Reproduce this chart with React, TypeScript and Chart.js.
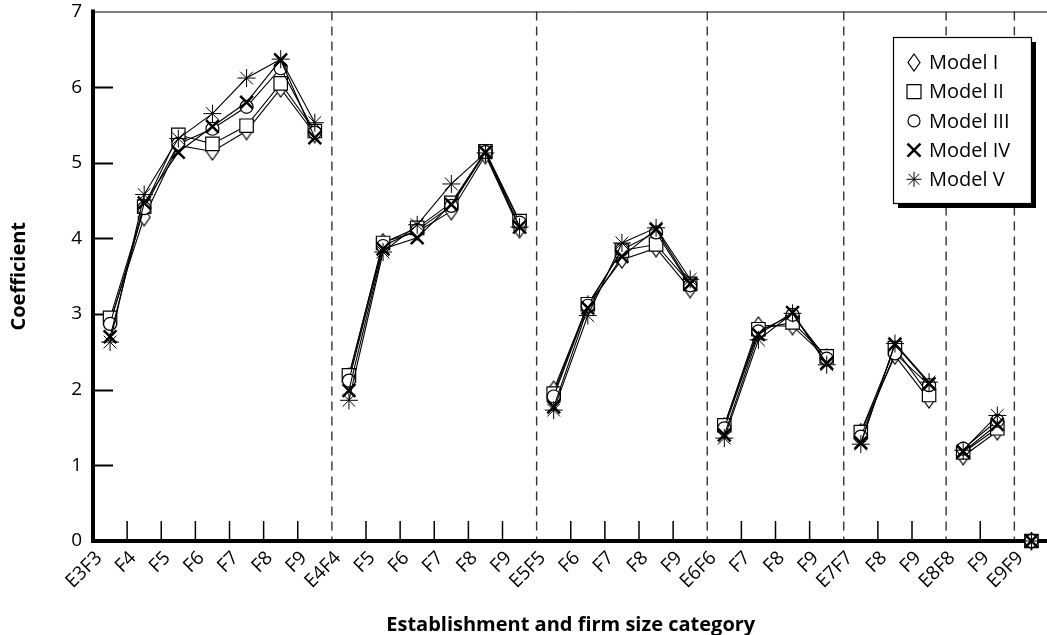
import React, { useEffect, useRef } from 'react';
import { Chart, registerables } from 'chart.js';

Chart.register(...registerables);

const categories = [
  'E3F3', 'F4', 'F5', 'F6', 'F7', 'F8', 'F9',
  'E4F4', 'F5', 'F6', 'F7', 'F8', 'F9',
  'E5F5', 'F6', 'F7', 'F8', 'F9',
  'E6F6', 'F7', 'F8', 'F9',
  'E7F7', 'F8', 'F9',
  'E8F8', 'F9',
  'E9F9',
];
// index of the first category of each establishment group (after the first)
const groupStarts = [7, 13, 18, 22, 25, 27];

const modelNames = ['Model I', 'Model II', 'Model III', 'Model IV', 'Model V'];

const modelI = [2.90, 4.28, 5.23, 5.15, 5.42, 5.98, 5.38, 2.17, 3.95, 4.09, 4.36, 5.10, 4.12, 2.00, 3.12, 3.72, 3.87, 3.33, 1.52, 2.85, 2.84, 2.42, 1.44, 2.45, 1.87, 1.12, 1.45, 0];
const modelII = [2.95, 4.42, 5.37, 5.25, 5.49, 6.05, 5.42, 2.19, 3.94, 4.14, 4.47, 5.15, 4.23, 1.95, 3.13, 3.84, 3.92, 3.40, 1.53, 2.80, 2.89, 2.44, 1.44, 2.55, 1.93, 1.17, 1.49, 0];
const modelIII = [2.87, 4.40, 5.25, 5.45, 5.74, 6.25, 5.40, 2.12, 3.90, 4.11, 4.43, 5.14, 4.21, 1.91, 3.11, 3.85, 4.08, 3.38, 1.49, 2.77, 2.99, 2.41, 1.38, 2.48, 2.06, 1.22, 1.59, 0];
const modelIV = [2.70, 4.47, 5.14, 5.48, 5.80, 6.36, 5.33, 1.99, 3.86, 4.01, 4.45, 5.14, 4.15, 1.77, 3.08, 3.76, 4.12, 3.40, 1.40, 2.73, 3.02, 2.35, 1.30, 2.60, 2.08, 1.18, 1.54, 0];
const modelV = [2.63, 4.58, 5.32, 5.65, 6.12, 6.37, 5.53, 1.86, 3.82, 4.18, 4.72, 5.13, 4.15, 1.73, 2.98, 3.94, 4.14, 3.46, 1.36, 2.66, 3.01, 2.33, 1.28, 2.61, 2.10, 1.20, 1.66, 0];

const yMin = 0;
const yMax = 7;
const yStep = 1;

const xTitle = 'Establishment and firm size category';
const yTitle = 'Coefficient';

const FONT = "'Open Sans', 'Noto Sans', sans-serif";

function makeDiamond(): HTMLCanvasElement {
  const c = document.createElement('canvas');
  c.width = 14;
  c.height = 19;
  const g = c.getContext('2d')!;
  g.beginPath();
  g.moveTo(7, 1);
  g.lineTo(13, 9.5);
  g.lineTo(7, 18);
  g.lineTo(1, 9.5);
  g.closePath();
  g.fillStyle = '#fff';
  g.fill();
  g.lineWidth = 1.2;
  g.strokeStyle = '#000';
  g.stroke();
  return c;
}

function drawMarker(ctx: CanvasRenderingContext2D, kind: string, x: number, y: number, diamond: HTMLCanvasElement) {
  ctx.save();
  ctx.strokeStyle = '#000';
  ctx.fillStyle = '#fff';
  if (kind === 'diamond') {
    ctx.drawImage(diamond, x - diamond.width / 2, y - diamond.height / 2);
  } else if (kind === 'rect') {
    ctx.lineWidth = 1.2;
    ctx.beginPath();
    ctx.rect(x - 7, y - 7, 14, 14);
    ctx.fill();
    ctx.stroke();
  } else if (kind === 'circle') {
    ctx.lineWidth = 1.2;
    ctx.beginPath();
    ctx.arc(x, y, 6, 0, Math.PI * 2);
    ctx.fill();
    ctx.stroke();
  } else if (kind === 'crossRot') {
    ctx.lineWidth = 2.5;
    const d = 6.5;
    ctx.beginPath();
    ctx.moveTo(x - d, y - d);
    ctx.lineTo(x + d, y + d);
    ctx.moveTo(x + d, y - d);
    ctx.lineTo(x - d, y + d);
    ctx.stroke();
  } else if (kind === 'star') {
    ctx.lineWidth = 1;
    const r = 7.5;
    const d = r * Math.SQRT1_2;
    ctx.beginPath();
    ctx.moveTo(x, y - r);
    ctx.lineTo(x, y + r);
    ctx.moveTo(x - r, y);
    ctx.lineTo(x + r, y);
    ctx.moveTo(x - d, y - d);
    ctx.lineTo(x + d, y + d);
    ctx.moveTo(x + d, y - d);
    ctx.lineTo(x - d, y + d);
    ctx.stroke();
  }
  ctx.restore();
}

export default function App() {
  const ref = useRef<HTMLCanvasElement | null>(null);

  useEffect(() => {
    if (!ref.current) return;
    const diamond = makeDiamond();
    const markerKinds = ['diamond', 'rect', 'circle', 'crossRot', 'star'];

    const segment = {
      borderColor: (ctx: any) => (groupStarts.includes(ctx.p1DataIndex) ? 'rgba(0,0,0,0)' : undefined),
    };

    const base = {
      borderColor: '#000',
      borderWidth: 1.1,
      pointBackgroundColor: '#fff',
      pointBorderColor: '#000',
      clip: false as const,
      segment,
      tension: 0,
    };

    const axesPlugin = {
      id: 'axesPlugin',
      beforeDatasetsDraw(chart: any) {
        const { ctx, chartArea: ca } = chart;
        const xs = chart.scales.x;
        const ys = chart.scales.y;
        ctx.save();
        // top frame line
        ctx.strokeStyle = '#000';
        ctx.lineWidth = 1;
        ctx.beginPath();
        ctx.moveTo(ca.left, ca.top + 0.5);
        ctx.lineTo(ca.right, ca.top + 0.5);
        ctx.stroke();
        // x ticks and group separators
        for (let k = 1; k < categories.length; k++) {
          const px = xs.getPixelForValue(k - 0.5);
          if (groupStarts.includes(k)) {
            ctx.save();
            ctx.strokeStyle = '#333';
            ctx.lineWidth = 1.4;
            ctx.setLineDash([9, 6]);
            ctx.beginPath();
            ctx.moveTo(px, ca.top);
            ctx.lineTo(px, ca.bottom);
            ctx.stroke();
            ctx.restore();
          } else {
            ctx.lineWidth = 1.5;
            ctx.beginPath();
            ctx.moveTo(px, ca.bottom);
            ctx.lineTo(px, ca.bottom - 20);
            ctx.stroke();
          }
        }
        // y ticks (inward)
        for (let v = yMin + yStep; v < yMax; v += yStep) {
          const py = Math.round(ys.getPixelForValue(v)) + 0.5;
          ctx.lineWidth = 2;
          ctx.beginPath();
          ctx.moveTo(ca.left, py);
          ctx.lineTo(ca.left + 20, py);
          ctx.stroke();
        }
        // axes
        ctx.lineWidth = 4;
        ctx.lineCap = 'square';
        ctx.beginPath();
        ctx.moveTo(ca.left, ca.top);
        ctx.lineTo(ca.left, ca.bottom);
        ctx.lineTo(ca.right + 10, ca.bottom);
        ctx.stroke();
        ctx.restore();
      },
    };

    const legendPlugin = {
      id: 'boxLegend',
      afterDraw(chart: any) {
        const { ctx } = chart;
        const x0 = 893;
        const y0 = 37;
        const w = 138;
        const h = 166;
        ctx.save();
        ctx.fillStyle = '#000';
        ctx.fillRect(x0 + 5, y0 + 5, w, h);
        ctx.fillStyle = '#fff';
        ctx.fillRect(x0, y0, w, h);
        ctx.strokeStyle = '#000';
        ctx.lineWidth = 1.2;
        ctx.strokeRect(x0 + 0.5, y0 + 0.5, w, h);
        ctx.font = `20px ${FONT}`;
        ctx.textBaseline = 'middle';
        ctx.textAlign = 'left';
        modelNames.forEach((name, i) => {
          const cy = y0 + 25.5 + i * 29.2;
          drawMarker(ctx, markerKinds[i], 914, cy, diamond);
          ctx.fillStyle = '#000';
          ctx.fillText(name, 929, cy + 1);
        });
        ctx.restore();
      },
    };

    const chart = new Chart(ref.current, {
      type: 'line',
      data: {
        labels: categories,
        datasets: [
          { ...base, label: modelNames[0], data: modelI, pointStyle: diamond as any, pointRadius: 7, pointBorderWidth: 1.2, order: 5 },
          { ...base, label: modelNames[1], data: modelII, pointStyle: 'rect', pointRadius: 9.5, pointBorderWidth: 1.2, order: 4 },
          { ...base, label: modelNames[2], data: modelIII, pointStyle: 'circle', pointRadius: 6.5, pointBorderWidth: 1.2, order: 3 },
          { ...base, label: modelNames[3], data: modelIV, pointStyle: 'crossRot', pointRadius: 9, pointBorderWidth: 2.5, order: 2 },
          { ...base, label: modelNames[4], data: modelV, pointStyle: 'star', pointRadius: 9, pointBorderWidth: 1, order: 1 },
        ],
      },
      options: {
        animation: false,
        responsive: true,
        maintainAspectRatio: false,
        events: [],
        layout: { padding: { top: 10, right: 3, left: 0, bottom: 0 } },
        plugins: {
          legend: { display: false },
          tooltip: { enabled: false },
        },
        scales: {
          x: {
            type: 'category',
            offset: true,
            grid: { display: false, drawTicks: false },
            border: { display: false },
            ticks: {
              autoSkip: false,
              minRotation: 45,
              maxRotation: 45,
              padding: 6,
              labelOffset: -11,
              color: '#000',
              font: { family: FONT, size: 19 },
            },
            title: {
              display: true,
              text: xTitle,
              color: '#000',
              font: { family: FONT, size: 20, weight: 'bold', lineHeight: 1 },
              padding: { top: 0, bottom: 0 },
            },
            afterFit: (s: any) => {
              s.height = 94;
              s.paddingLeft = 0;
              s.paddingRight = 0;
            },
          },
          y: {
            min: yMin,
            max: yMax,
            grid: { display: false, drawTicks: false },
            border: { display: false },
            ticks: {
              stepSize: yStep,
              padding: 11,
              color: '#000',
              font: { family: FONT, size: 19 },
            },
            title: {
              display: true,
              text: yTitle,
              color: '#000',
              font: { family: FONT, size: 20, weight: 'bold', lineHeight: 1 },
              padding: { top: 9, bottom: 0 },
            },
            afterFit: (s: any) => {
              s.width = 93;
              s.paddingTop = 0;
              s.paddingBottom = 0;
            },
          },
        },
      },
      plugins: [axesPlugin, legendPlugin],
    });

    return () => chart.destroy();
  }, []);

  return (
    <div style={{ position: 'fixed', left: 0, top: 0, width: 1047, height: 635, overflow: 'hidden', background: '#fff' }}>
      <div style={{ position: 'relative', width: 1060, height: 635 }}>
        <canvas ref={ref} />
      </div>
    </div>
  );
}
